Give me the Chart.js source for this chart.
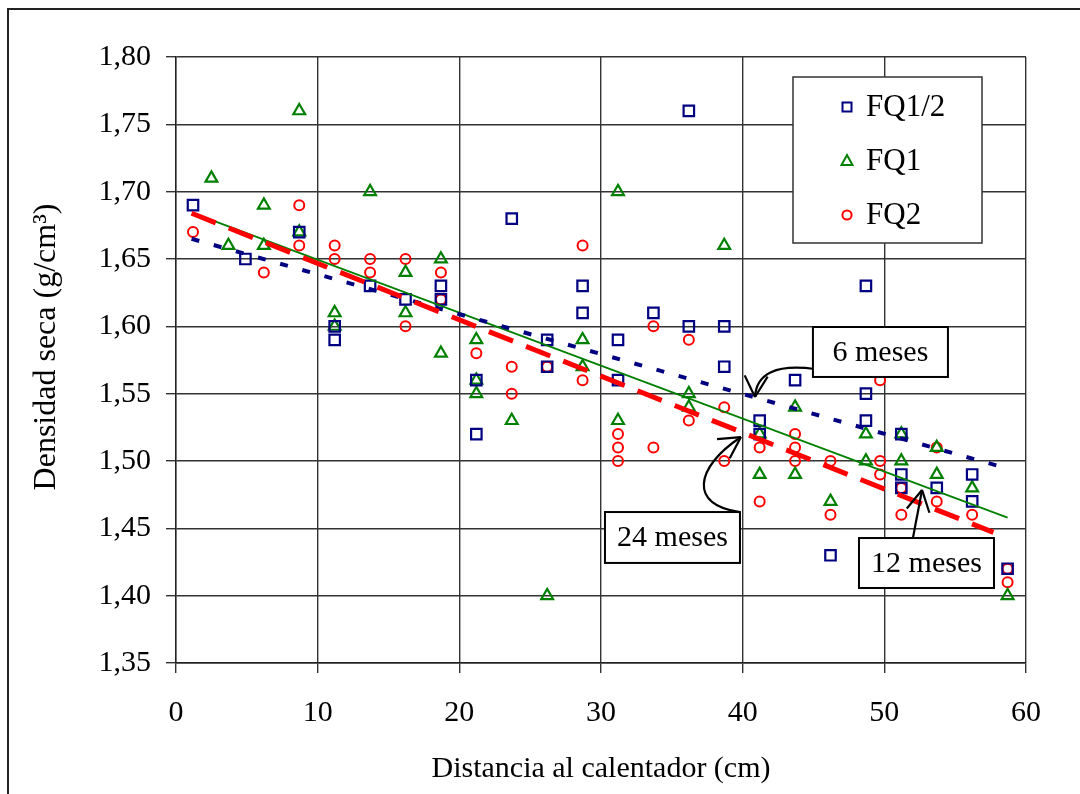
<!DOCTYPE html>
<html lang="es">
<head>
<meta charset="UTF-8">
<title>Densidad seca vs distancia al calentador</title>
<script src="https://cdn.jsdelivr.net/npm/chart.js"></script>
<style>
  body { margin: 0; background: #fff; }
  canvas { display: block; }
</style>
</head>
<body>
<canvas id="densChart" width="1080" height="794"></canvas>
<script>
const SERIF = "'Liberation Serif', 'Times New Roman', serif";

// FQ1/2 - cuadrados azules
const fq12X = [1.2, 4.9, 8.7, 11.2, 11.2, 13.7, 16.2, 18.7, 18.7, 21.2, 21.2, 23.7, 26.2, 26.2,
  28.7, 28.7, 31.2, 31.2, 33.7, 36.2, 36.2, 38.7, 38.7, 41.2, 41.2, 43.7, 46.2,
  48.7, 48.7, 48.7, 51.2, 51.2, 51.2, 53.7, 56.2, 56.2, 58.7];
const fq12Y = [1.69, 1.65, 1.67, 1.60, 1.59, 1.63, 1.62, 1.63, 1.62, 1.56, 1.52, 1.68, 1.59, 1.57,
  1.63, 1.61, 1.59, 1.56, 1.61, 1.76, 1.60, 1.60, 1.57, 1.53, 1.52, 1.56, 1.43,
  1.63, 1.55, 1.53, 1.52, 1.49, 1.48, 1.48, 1.49, 1.47, 1.42];

// FQ1 - triangulos verdes
const fq1X = [2.5, 3.7, 6.2, 6.2, 8.7, 8.7, 11.2, 11.2, 13.7, 16.2, 16.2, 18.7, 18.7,
  21.2, 21.2, 21.2, 23.7, 26.2, 28.7, 28.7, 31.2, 31.2, 36.2, 36.2, 38.7,
  41.2, 41.2, 43.7, 43.7, 46.2, 48.7, 48.7, 51.2, 51.2, 53.7, 53.7, 56.2, 58.7];
const fq1Y = [1.71, 1.66, 1.69, 1.66, 1.76, 1.67, 1.61, 1.60, 1.70, 1.64, 1.61, 1.65, 1.58,
  1.59, 1.56, 1.55, 1.53, 1.40, 1.59, 1.57, 1.70, 1.53, 1.55, 1.54, 1.66,
  1.52, 1.49, 1.54, 1.49, 1.47, 1.52, 1.50, 1.52, 1.50, 1.51, 1.49, 1.48, 1.40];

// FQ2 - circulos rojos
const fq2X = [1.2, 6.2, 8.7, 8.7, 11.2, 11.2, 13.7, 13.7, 16.2, 16.2, 18.7, 18.7, 21.2,
  23.7, 23.7, 26.2, 28.7, 28.7, 31.2, 31.2, 31.2, 33.7, 33.7, 36.2, 36.2, 38.7, 38.7,
  41.2, 41.2, 43.7, 43.7, 43.7, 46.2, 46.2, 49.7, 49.7, 49.7, 51.2, 51.2, 53.7, 53.7,
  56.2, 58.7, 58.7];
const fq2Y = [1.67, 1.64, 1.69, 1.66, 1.66, 1.65, 1.65, 1.64, 1.65, 1.60, 1.64, 1.62, 1.58,
  1.57, 1.55, 1.57, 1.66, 1.56, 1.52, 1.51, 1.50, 1.60, 1.51, 1.59, 1.53, 1.54, 1.50,
  1.51, 1.47, 1.52, 1.51, 1.50, 1.50, 1.46, 1.56, 1.50, 1.49, 1.48, 1.46, 1.51, 1.47,
  1.46, 1.42, 1.41];

// rectas de tendencia (extremos)
const trendFq12X = [1.1, 58.5];
const trendFq12Y = [1.665, 1.495];
const trendFq1X = [1.2, 58.7];
const trendFq1Y = [1.684, 1.458];
const trendFq2X = [1.1, 57.7];
const trendFq2Y = [1.684, 1.447];

const xTicks = [0, 10, 20, 30, 40, 50, 60];
const yTicks = [1.35, 1.40, 1.45, 1.50, 1.55, 1.60, 1.65, 1.70, 1.75, 1.80];

const seriesNames = ['FQ1/2', 'FQ1', 'FQ2'];

// etiquetas con flecha, en unidades de los ejes
const notes = [
  { text: '6 meses', box: [44.96, 54.49, 1.5995, 1.5624],
    path: [[45.11, 1.5683], [41.01, 1.5740], [40.87, 1.5475]] },
  { text: '24 meses', box: [30.28, 39.81, 1.4621, 1.4243],
    path: [[39.81, 1.4621], [36.20, 1.4670], [36.60, 1.4950], [39.88, 1.5178]] },
  { text: '12 meses', box: [48.21, 57.74, 1.4428, 1.4057],
    path: [[52.02, 1.4428], [52.66, 1.4785]] }
];

const pts = (xs, ys) => xs.map((x, i) => ({ x: x, y: ys[i] }));

function drawMarker(ctx, style, x, y, color) {
  ctx.save();
  ctx.strokeStyle = color;
  ctx.lineWidth = 2;
  ctx.beginPath();
  if (style === 'rect') {
    ctx.rect(x - 4.5, y - 4.5, 9, 9);
  } else if (style === 'triangle') {
    ctx.moveTo(x, y - 6);
    ctx.lineTo(x + 5.5, y + 4);
    ctx.lineTo(x - 5.5, y + 4);
    ctx.closePath();
  } else {
    ctx.arc(x, y, 4.6, 0, Math.PI * 2);
  }
  ctx.stroke();
  ctx.restore();
}

const decorations = {
  id: 'decorations',
  afterDraw(chart) {
    const ctx = chart.ctx;
    const area = chart.chartArea;
    const xs = chart.scales.x, ys = chart.scales.y;
    const px = v => xs.getPixelForValue(v);
    const py = v => ys.getPixelForValue(v);

    ctx.save();
    // marco exterior
    ctx.strokeStyle = '#222';
    ctx.lineWidth = 2;
    ctx.beginPath();
    ctx.moveTo(8, 800);
    ctx.lineTo(8, 9);
    ctx.lineTo(1090, 9);
    ctx.stroke();

    // titulos de ejes
    ctx.fillStyle = '#000';
    ctx.font = '30px ' + SERIF;
    ctx.textAlign = 'center';
    ctx.textBaseline = 'middle';
    ctx.fillText('Distancia al calentador (cm)', (area.left + area.right) / 2, 769);
    ctx.save();
    ctx.translate(47, 347);
    ctx.rotate(-Math.PI / 2);
    ctx.font = '32px ' + SERIF;
    ctx.fillText('Densidad seca (g/cm³)', 0, 0);
    ctx.restore();

    // leyenda
    const lx = area.right - 233, ly = area.top + 20;
    ctx.fillStyle = '#fff';
    ctx.fillRect(lx, ly, 189, 166);
    ctx.strokeStyle = '#333';
    ctx.lineWidth = 1.5;
    ctx.strokeRect(lx, ly, 189, 166);
    const styles = ['rect', 'triangle', 'circle'];
    const colors = ['#000080', '#008000', '#ff0000'];
    ctx.font = '31px ' + SERIF;
    ctx.textAlign = 'left';
    seriesNames.forEach((name, i) => {
      const yy = ly + 30 + i * 54;
      drawMarker(ctx, styles[i], lx + 54, yy, colors[i]);
      ctx.fillStyle = '#000';
      ctx.fillText(name, lx + 73, yy + 1);
    });

    // etiquetas de meses con flechas
    notes.forEach(n => {
      const p = n.path.map(q => [px(q[0]), py(q[1])]);
      ctx.strokeStyle = '#000';
      ctx.lineWidth = 2.2;
      ctx.beginPath();
      ctx.moveTo(p[0][0], p[0][1]);
      if (p.length === 2) ctx.lineTo(p[1][0], p[1][1]);
      else if (p.length === 3) ctx.quadraticCurveTo(p[1][0], p[1][1], p[2][0], p[2][1]);
      else ctx.bezierCurveTo(p[1][0], p[1][1], p[2][0], p[2][1], p[3][0], p[3][1]);
      ctx.stroke();
      const tip = p[p.length - 1], prev = p[p.length - 2];
      const ang = Math.atan2(tip[1] - prev[1], tip[0] - prev[0]);
      ctx.beginPath();
      [-0.5, 0.5].forEach(d => {
        ctx.moveTo(tip[0] - 24 * Math.cos(ang + d), tip[1] - 24 * Math.sin(ang + d));
        ctx.lineTo(tip[0], tip[1]);
      });
      ctx.stroke();

      const x0 = px(n.box[0]), x1 = px(n.box[1]);
      const y0 = py(n.box[2]), y1 = py(n.box[3]);
      ctx.fillStyle = '#fff';
      ctx.fillRect(x0, y0, x1 - x0, y1 - y0);
      ctx.lineWidth = 2;
      ctx.strokeRect(x0, y0, x1 - x0, y1 - y0);
      ctx.fillStyle = '#000';
      ctx.font = '30px ' + SERIF;
      ctx.textAlign = 'center';
      ctx.textBaseline = 'middle';
      ctx.fillText(n.text, (x0 + x1) / 2, (y0 + y1) / 2 + 1);
    });
    ctx.restore();
  }
};

new Chart(document.getElementById('densChart'), {
  type: 'scatter',
  data: {
    datasets: [
      { label: 'tendencia FQ2', data: pts(trendFq2X, trendFq2Y), showLine: true,
        borderColor: '#ff0000', borderWidth: 5, borderDash: [26, 14], pointRadius: 0, order: 0 },
      { label: 'tendencia FQ1/2', data: pts(trendFq12X, trendFq12Y), showLine: true,
        borderColor: '#000080', borderWidth: 4, borderDash: [8, 15], pointRadius: 0, order: 1 },
      { label: 'tendencia FQ1', data: pts(trendFq1X, trendFq1Y), showLine: true,
        borderColor: '#008000', borderWidth: 1.8, pointRadius: 0, order: 2 },
      { label: seriesNames[0], data: pts(fq12X, fq12Y), pointStyle: 'rect', pointRadius: 7.4,
        borderColor: '#000080', backgroundColor: 'transparent', borderWidth: 2.2, order: 3 },
      { label: seriesNames[1], data: pts(fq1X, fq1Y), pointStyle: 'triangle', pointRadius: 6.8,
        borderColor: '#008000', backgroundColor: 'transparent', borderWidth: 2.2, order: 4 },
      { label: seriesNames[2], data: pts(fq2X, fq2Y), pointStyle: 'circle', pointRadius: 5,
        borderColor: '#ff0000', backgroundColor: 'transparent', borderWidth: 2, order: 5 }
    ]
  },
  options: {
    responsive: false,
    animation: false,
    devicePixelRatio: 1,
    layout: { padding: { left: 0, top: 57, right: 54, bottom: 0 } },
    plugins: { legend: { display: false }, tooltip: { enabled: false } },
    scales: {
      x: {
        type: 'linear', min: 0, max: 60,
        afterBuildTicks: s => { s.ticks = xTicks.map(v => ({ value: v })); },
        afterFit: s => { s.height = 131; },
        grid: { color: '#333', lineWidth: 1.4, tickLength: 10 },
        border: { color: '#222', width: 1.4 },
        ticks: { color: '#000', padding: 22, font: { family: SERIF, size: 30 } }
      },
      y: {
        type: 'linear', min: 1.35, max: 1.80,
        afterBuildTicks: s => { s.ticks = yTicks.map(v => ({ value: v })); },
        afterFit: s => { s.width = 176; },
        grid: { color: '#333', lineWidth: 1.4, tickLength: 10 },
        border: { color: '#222', width: 1.4 },
        ticks: { color: '#000', padding: 15, font: { family: SERIF, size: 30 },
          callback: v => v.toFixed(2).replace('.', ',') }
      }
    }
  },
  plugins: [decorations]
});
</script>
</body>
</html>
